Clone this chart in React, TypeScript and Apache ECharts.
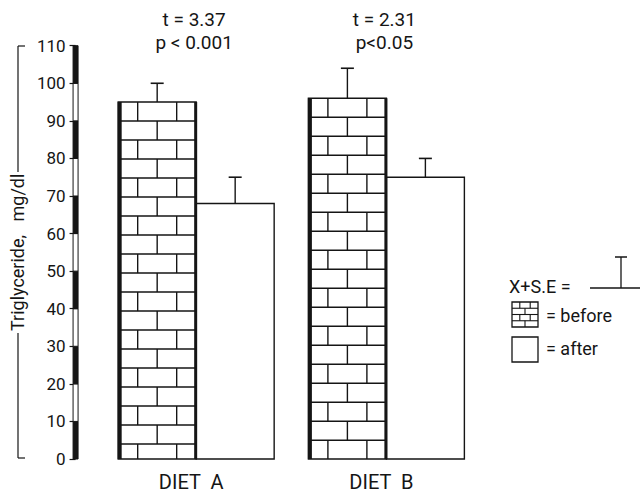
import React, { useEffect, useRef } from "react";
import * as echarts from "echarts";

const categories = ["DIET  A", "DIET  B"];
const beforeMean = [95, 96];
const beforeSE = [5, 8];
const afterMean = [68, 75];
const afterSE = [7, 5];
const axisSegments = [0, 10, 20, 30, 40, 50, 60, 70, 80, 90, 100];
const statT = ["t = 3.37", "t = 2.31"];
const statP = ["p < 0.001", "p<0.05"];

const INK = "#151515";
const FONT = "Roboto, 'Noto Sans', sans-serif";
const Y_OFFSET = 25.5;

function barRenderer(kind: "before" | "after") {
  return (params: any, api: any) => {
    const i = api.value(0);
    const v = api.value(1);
    const se = api.value(2);
    const [cx, y0] = api.coord([i, 0]);
    const yTop = api.coord([i, v])[1];
    const yErr = api.coord([i, v + se])[1];
    const band = api.size([1, 0])[0];
    const w = band * 0.41;
    const x = kind === "before" ? cx - w : cx;
    const h = y0 - yTop;
    const children: any[] = [];
    children.push({
      type: "rect",
      shape: { x, y: yTop, width: w, height: h },
      style: { fill: "#fff", stroke: INK, lineWidth: 1.4 },
    });
    if (kind === "before") {
      const rowH = 19;
      let r = 0;
      for (let top = yTop; top < y0 - 0.5; top += rowH, r++) {
        const bottom = Math.min(top + rowH, y0);
        if (r > 0) {
          children.push({
            type: "line",
            shape: { x1: x, y1: top, x2: x + w, y2: top },
            style: { stroke: INK, lineWidth: 1.4 },
          });
        }
        const xs = r % 2 === 0 ? [x + w * 0.25, x + w * 0.75] : [x + w * 0.5];
        xs.forEach((vx) =>
          children.push({
            type: "line",
            shape: { x1: vx, y1: top, x2: vx, y2: bottom },
            style: { stroke: INK, lineWidth: 1.4 },
          })
        );
      }
      children.push({
        type: "line",
        shape: { x1: x + 1.5, y1: yTop, x2: x + 1.5, y2: y0 },
        style: { stroke: INK, lineWidth: 4 },
      });
      children.push({
        type: "line",
        shape: { x1: x + w - 0.5, y1: yTop, x2: x + w - 0.5, y2: y0 },
        style: { stroke: INK, lineWidth: 3 },
      });
    }
    const mx = x + w / 2;
    children.push({
      type: "line",
      shape: { x1: mx, y1: yTop, x2: mx, y2: yErr },
      style: { stroke: INK, lineWidth: 1.4 },
    });
    children.push({
      type: "line",
      shape: { x1: mx - 6.5, y1: yErr, x2: mx + 6.5, y2: yErr },
      style: { stroke: INK, lineWidth: 1.6 },
    });
    return { type: "group", children };
  };
}

function axisBarRenderer(params: any, api: any) {
  const v = api.value(1);
  const ax = params.coordSys.x - Y_OFFSET;
  const y1 = api.coord([0, v])[1];
  const y2 = api.coord([0, v + 10])[1];
  const black = (v / 10) % 2 === 0;
  return {
    type: "rect",
    shape: { x: ax - 2.5, y: y2, width: 5, height: y1 - y2 },
    style: { fill: black ? INK : "#fff", stroke: INK, lineWidth: 1 },
  };
}

function statsRenderer(params: any, api: any) {
  const i = api.value(0);
  const [cx, yTop] = api.coord([i, 110]);
  const mk = (text: string, dy: number) => ({
    type: "text",
    style: {
      text,
      x: cx - 2,
      y: yTop + dy,
      align: "center",
      verticalAlign: "middle",
      fill: INK,
      font: `19px ${FONT}`,
    },
  });
  return { type: "group", children: [mk(statT[i], -26), mk(statP[i], -3)] };
}

export default function App() {
  const ref = useRef<HTMLDivElement>(null);
  useEffect(() => {
    if (!ref.current) return;
    const chart = echarts.init(ref.current, undefined, { renderer: "svg" });
    const brickIcon: any[] = [];
    const bx = 512, by = 302, bw = 26, bh = 25;
    brickIcon.push({
      type: "rect",
      shape: { x: bx, y: by, width: bw, height: bh },
      style: { fill: "#fff", stroke: INK, lineWidth: 1.3 },
    });
    for (let r = 0; r < 4; r++) {
      const t = by + (r * bh) / 4;
      if (r > 0)
        brickIcon.push({
          type: "line",
          shape: { x1: bx, y1: t, x2: bx + bw, y2: t },
          style: { stroke: INK, lineWidth: 1.1 },
        });
      const xs = r % 2 === 0 ? [bx + bw * 0.3, bx + bw * 0.7] : [bx + bw * 0.5];
      xs.forEach((vx) =>
        brickIcon.push({
          type: "line",
          shape: { x1: vx, y1: t, x2: vx, y2: t + bh / 4 },
          style: { stroke: INK, lineWidth: 1.1 },
        })
      );
    }
    const option: any = {
      animation: false,
      backgroundColor: "#fff",
      grid: { left: 95.5, right: 158.5, top: 45.7, bottom: 35 },
      xAxis: {
        type: "category",
        data: categories,
        axisLine: { show: false },
        axisTick: { show: false },
        axisLabel: {
          fontSize: 20,
          color: INK,
          fontFamily: FONT,
          margin: 13,
          padding: [0, 10, 0, 0],
        },
      },
      yAxis: {
        type: "value",
        min: 0,
        max: 110,
        interval: 10,
        offset: Y_OFFSET,
        axisLine: { show: false },
        axisTick: { show: true, length: 6, lineStyle: { color: INK, width: 1.2 } },
        axisLabel: { fontSize: 17, color: INK, fontFamily: FONT, margin: 10 },
        splitLine: { show: false },
        name: "Triglyceride,   mg/dl",
        nameLocation: "middle",
        nameRotate: 90,
        nameGap: 40,
        nameTextStyle: { fontSize: 18, color: INK, fontFamily: FONT },
      },
      series: [
        {
          type: "custom",
          name: "axis",
          renderItem: axisBarRenderer,
          data: axisSegments.map((v) => [0, v]),
          silent: true,
        },
        {
          type: "custom",
          name: "after",
          renderItem: barRenderer("after"),
          data: afterMean.map((v, i) => [i, v, afterSE[i]]),
        },
        {
          type: "custom",
          name: "before",
          renderItem: barRenderer("before"),
          data: beforeMean.map((v, i) => [i, v, beforeSE[i]]),
        },
        {
          type: "custom",
          name: "stats",
          renderItem: statsRenderer,
          data: categories.map((_, i) => [i, 110]),
        },
      ],
      graphic: [
        { type: "line", shape: { x1: 25, y1: 46, x2: 18, y2: 46 }, style: { stroke: INK, lineWidth: 1.2 } },
        { type: "line", shape: { x1: 18, y1: 46, x2: 18, y2: 172 }, style: { stroke: INK, lineWidth: 1.2 } },
        { type: "line", shape: { x1: 18, y1: 333, x2: 18, y2: 458 }, style: { stroke: INK, lineWidth: 1.2 } },
        { type: "line", shape: { x1: 18, y1: 458, x2: 25, y2: 458 }, style: { stroke: INK, lineWidth: 1.2 } },
        {
          type: "text",
          style: { text: "X+S.E =", x: 509, y: 286, verticalAlign: "middle", fill: INK, font: `18px ${FONT}` },
        },
        { type: "line", shape: { x1: 590, y1: 288, x2: 640, y2: 288 }, style: { stroke: INK, lineWidth: 1.3 } },
        { type: "line", shape: { x1: 621, y1: 288, x2: 621, y2: 257 }, style: { stroke: INK, lineWidth: 1.3 } },
        { type: "line", shape: { x1: 615, y1: 257, x2: 627, y2: 257 }, style: { stroke: INK, lineWidth: 1.5 } },
        ...brickIcon,
        {
          type: "text",
          style: { text: "= before", x: 546, y: 315, verticalAlign: "middle", fill: INK, font: `18px ${FONT}` },
        },
        {
          type: "rect",
          shape: { x: 512, y: 337, width: 26, height: 25 },
          style: { fill: "#fff", stroke: INK, lineWidth: 1.3 },
        },
        {
          type: "text",
          style: { text: "= after", x: 546, y: 348, verticalAlign: "middle", fill: INK, font: `18px ${FONT}` },
        },
      ],
    };
    chart.setOption(option);
    return () => chart.dispose();
  }, []);
  return (
    <div
      ref={ref}
      style={{ position: "fixed", left: 0, top: 0, width: 640, height: 494, background: "#fff" }}
    />
  );
}
